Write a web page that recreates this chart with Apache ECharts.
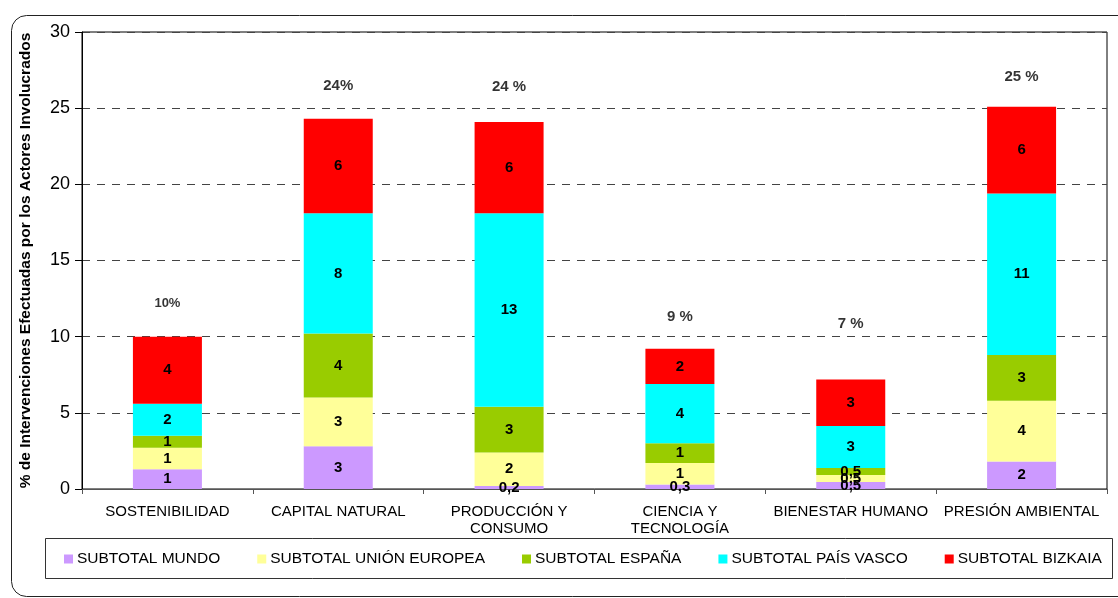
<!DOCTYPE html>
<html>
<head>
<meta charset="utf-8">
<title>Intervenciones por ámbito</title>
<script src="https://cdn.jsdelivr.net/npm/echarts@6/dist/echarts.min.js"></script>
<style>
  html, body { margin: 0; padding: 0; background: #fff; }
  #chart { width: 1118px; height: 598px; }
</style>
</head>
<body>
<div id="chart"></div>
<script>
// Categories along the x axis
const categories = [
  'SOSTENIBILIDAD',
  'CAPITAL NATURAL',
  'PRODUCCIÓN Y\nCONSUMO',
  'CIENCIA Y\nTECNOLOGÍA',
  'BIENESTAR HUMANO',
  'PRESIÓN AMBIENTAL'
];

// Stacked subtotals (% of interventions), bottom to top
const mundo        = [1.3, 2.8, 0.2, 0.3, 0.46, 1.8];
const unionEuropea = [1.4, 3.2, 2.2, 1.4, 0.46, 4.0];
const espana       = [0.8, 4.2, 3.0, 1.3, 0.46, 3.0];
const paisVasco    = [2.1, 7.9, 12.7, 3.9, 2.75, 10.6];
const bizkaia      = [4.4, 6.2, 6.0, 2.3, 3.05, 5.7];

const seriesNames = [
  'SUBTOTAL MUNDO',
  'SUBTOTAL UNIÓN EUROPEA',
  'SUBTOTAL ESPAÑA',
  'SUBTOTAL PAÍS VASCO',
  'SUBTOTAL BIZKAIA'
];

// Text that follows each total
const totalSuffix = ['%', '%', ' %', ' %', ' %', ' %'];

// Y axis ticks
const yTicks = { min: 0, max: 30, interval: 5 };

const colors = ['#CC99FF', '#FFFF99', '#99CC00', '#00FFFF', '#FF0000'];
const seriesValues = [mundo, unionEuropea, espana, paisVasco, bizkaia];

const totals = categories.map((_, i) =>
  seriesValues.reduce((s, arr) => s + arr[i], 0));

// Lift of each total label above its bar (px) and its font size
const totalLift = [27, 25, 28, 24, 48, 22];
const totalFont = [13, 15, 15, 15, 15, 15];

const FONT = '"Liberation Sans", Arial, sans-serif';

function segmentText(v) {
  return v < 0.6 ? v.toFixed(1).replace('.', ',') : String(Math.round(v));
}

const chart = echarts.init(document.getElementById('chart'), null, { renderer: 'canvas' });

const barSeries = seriesValues.map((vals, k) => ({
  name: seriesNames[k],
  type: 'bar',
  stack: 'total',
  barWidth: 69,
  itemStyle: { color: colors[k] },
  label: {
    show: true,
    position: 'inside',
    color: '#000',
    fontFamily: FONT,
    fontWeight: 'bold',
    fontSize: 15,
    formatter: p => segmentText(p.value)
  },
  emphasis: { disabled: true },
  data: vals
}));

const totalSeries = {
  name: 'total',
  type: 'scatter',
  symbolSize: 0,
  silent: true,
  z: 5,
  data: totals.map((t, i) => ({
    value: t,
    label: {
      distance: totalLift[i],
      fontSize: totalFont[i]
    }
  })),
  label: {
    show: true,
    position: 'top',
    color: '#000',
    fontFamily: FONT,
    fontWeight: 'bold',
    formatter: p => Math.round(p.value) + totalSuffix[p.dataIndex]
  }
};

const option = {
  animation: false,
  backgroundColor: '#fff',
  textStyle: { fontFamily: FONT },
  grid: {
    left: 82, right: 11, top: 32, bottom: 109,
    show: true,
    borderColor: '#000',
    borderWidth: 1,
    backgroundColor: 'transparent'
  },
  legend: {
    data: seriesNames,
    left: 64,
    top: 551,
    padding: 0,
    itemWidth: 9,
    itemHeight: 9,
    itemGap: 37,
    icon: 'rect',
    selectedMode: false,
    textStyle: { fontFamily: FONT, fontSize: 15.5, color: '#000', padding: [0, 0, 0, -1] }
  },
  xAxis: {
    type: 'category',
    data: categories,
    axisLine: { lineStyle: { color: '#555', width: 1 } },
    axisTick: { show: true, length: 5, lineStyle: { color: '#555' } },
    axisLabel: {
      interval: 0,
      color: '#000',
      fontFamily: FONT,
      fontSize: 15,
      lineHeight: 17,
      margin: 14
    },
    splitLine: { show: false }
  },
  yAxis: {
    type: 'value',
    min: yTicks.min,
    max: yTicks.max,
    interval: yTicks.interval,
    name: '% de Intervenciones Efectuadas por los Actores Involucrados',
    nameLocation: 'middle',
    nameGap: 48,
    nameTextStyle: { fontFamily: FONT, fontWeight: 'bold', fontSize: 15.5, color: '#000' },
    axisLine: { show: true, lineStyle: { color: '#000', width: 1 } },
    axisTick: { show: true, length: 7, lineStyle: { color: '#000' } },
    axisLabel: { color: '#000', fontFamily: FONT, fontSize: 18, margin: 12 },
    splitLine: {
      show: true,
      lineStyle: { color: '#444', type: [8, 7], width: 1 }
    }
  },
  graphic: [
    {
      type: 'rect',
      silent: true,
      shape: { x: 11.5, y: 15.5, width: 1140, height: 581, r: 15 },
      style: { fill: 'none', stroke: '#222', lineWidth: 1 }
    },
    {
      type: 'rect',
      silent: true,
      z: -1,
      shape: { x: 45.5, y: 538.5, width: 1067, height: 40 },
      style: { fill: '#fff', stroke: '#333', lineWidth: 1 }
    }
  ],
  series: [...barSeries, totalSeries]
};

chart.setOption(option);
</script>
</body>
</html>
